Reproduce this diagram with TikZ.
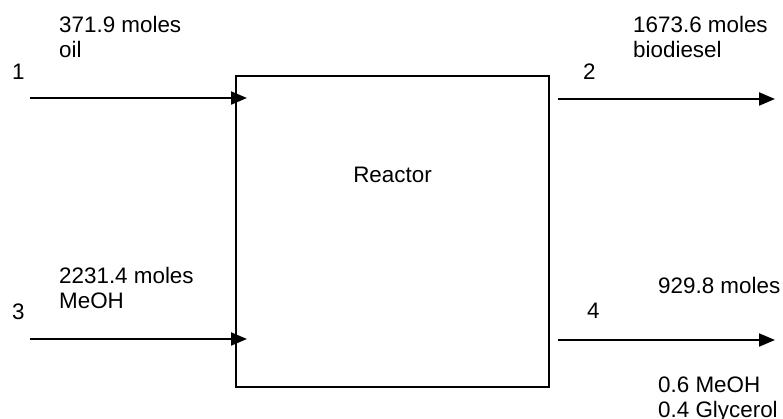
\documentclass[tikz,border=0pt]{standalone}
\usepackage{fontspec}
\setmainfont{Liberation Sans}
\usetikzlibrary{arrows.meta}
\begin{document}
\begin{tikzpicture}[x=1pt,y=-1pt,
  lbl/.style={anchor=base west,inner sep=0pt,font=\fontsize{22.4}{25}\selectfont},
  flow/.style={line width=2pt,-{Triangle[length=16pt,width=13pt]}},
  unit/.style={draw,line width=2pt,minimum width=313pt,minimum height=311pt,inner sep=0pt}]
\useasboundingbox (0,0) rectangle (783,418);
\begin{scope}
\clip (0,0) rectangle (783,418);
\node[unit] (reactor) at (392.5,231.5) {};
\node[lbl,anchor=base] (rlabel) at (392.5,182) {Reactor};
% stream ends
\coordinate (s1) at (30,98);  \coordinate (e1) at (247,98);
\coordinate (s3) at (30,339); \coordinate (e3) at (247,339);
\coordinate (s2) at (558,99); \coordinate (e2) at (775,99);
\coordinate (s4) at (558,340); \coordinate (e4) at (775,340);
\draw[flow] (s1) -- (e1);
\draw[flow] (s3) -- (e3);
\draw[flow] (s2) -- (e2);
\draw[flow] (s4) -- (e4);
% labels
\node[lbl] (n1) at (12,79) {1};
\node[lbl] (f1a) at (59,32) {371.9 moles};
\node[lbl] (f1b) at (59,57) {oil};
\node[lbl] (n2) at (583,79) {2};
\node[lbl] (f2a) at (633,32) {1673.6 moles};
\node[lbl] (f2b) at (633,57) {biodiesel};
\node[lbl] (n3) at (12,319) {3};
\node[lbl] (f3a) at (59,283) {2231.4 moles};
\node[lbl] (f3b) at (59,308) {MeOH};
\node[lbl] (n4) at (587,318) {4};
\node[lbl] (f4a) at (658,293) {929.8 moles};
\node[lbl] (f4b) at (658,392) {0.6 MeOH};
\node[lbl] (f4c) at (658,417) {0.4 Glycerol};
\end{scope}
\end{tikzpicture}
\end{document}
